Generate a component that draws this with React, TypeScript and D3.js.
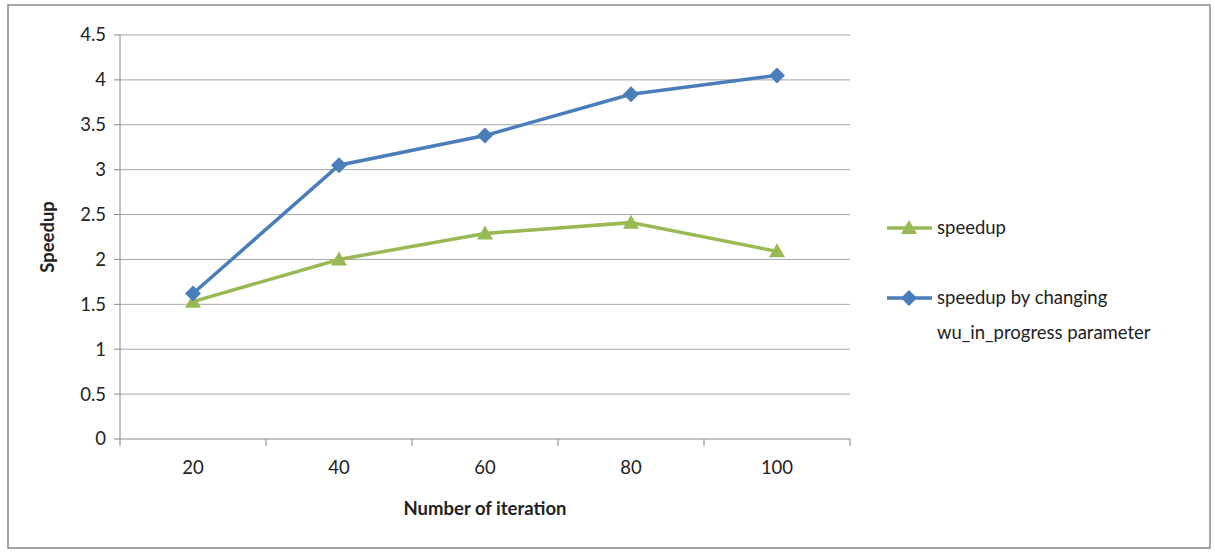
import * as d3 from "d3";

const categories = ["20", "40", "60", "80", "100"];
const speedup = [1.53, 2.0, 2.29, 2.41, 2.09];
const speedupWu = [1.62, 3.05, 3.38, 3.84, 4.05];
const yTicks = [0, 0.5, 1, 1.5, 2, 2.5, 3, 3.5, 4, 4.5];

const W = 1215;
const H = 552;
const left = 120, right = 850, top = 35, bottom = 439;
const font = "Lato, 'Liberation Sans', sans-serif";
const fs = 18.5;

export default function App() {
  const x = d3.scaleBand<string>().domain(categories).range([left, right]);
  const y = d3.scaleLinear().domain([0, 4.5]).range([bottom, top]);
  const cx = (c: string) => (x(c) ?? 0) + x.bandwidth() / 2;
  const line = d3.line<number>().x((_, i) => cx(categories[i])).y((d) => y(d));
  const blue = "#4a7ebb";
  const green = "#98b954";
  const diamond = (px: number, py: number, s = 8) =>
    `M${px},${py - s}L${px + s},${py}L${px},${py + s}L${px - s},${py}Z`;
  const tri = (px: number, py: number, s = 8) =>
    `M${px},${py - s}L${px + s},${py + s * 0.75}L${px - s},${py + s * 0.75}Z`;
  const bounds = [...categories.map((c) => x(c) ?? 0), right];

  return (
    <svg width={W} height={H} style={{ position: "fixed", left: 0, top: 0, background: "#fff" }} fontFamily={font}>
      <rect x={8} y={5} width={1202} height={543} fill="#fff" stroke="#888" strokeWidth={1.5} />
      {yTicks.map((t) => (
        <g key={t}>
          <line x1={left} x2={right} y1={y(t)} y2={y(t)} stroke={t === 0 ? "#888" : "#a6a6a6"} strokeWidth={1} />
          <line x1={left - 6} x2={left} y1={y(t)} y2={y(t)} stroke="#888" />
          <text x={left - 14} y={y(t)} dy="0.35em" textAnchor="end" fontSize={fs} fill="#222">{t}</text>
        </g>
      ))}
      <line x1={left} x2={left} y1={top} y2={bottom} stroke="#888" />
      {bounds.map((b, i) => (
        <line key={i} x1={b} x2={b} y1={bottom} y2={bottom + 7} stroke="#888" />
      ))}
      {categories.map((c) => (
        <text key={c} x={cx(c)} y={bottom + 35} textAnchor="middle" fontSize={fs} fill="#222">{c}</text>
      ))}
      <path d={line(speedup) ?? ""} fill="none" stroke={green} strokeWidth={3.5} />
      <path d={line(speedupWu) ?? ""} fill="none" stroke={blue} strokeWidth={3.5} />
      {speedup.map((v, i) => <path key={i} d={tri(cx(categories[i]), y(v))} fill={green} />)}
      {speedupWu.map((v, i) => <path key={i} d={diamond(cx(categories[i]), y(v))} fill={blue} />)}
      <text transform={`translate(54,${(top + bottom) / 2}) rotate(-90)`} textAnchor="middle" fontSize={fs} fontWeight="bold" fill="#222">Speedup</text>
      <text x={(left + right) / 2} y={515} textAnchor="middle" fontSize={fs} fontWeight="bold" fill="#222">Number of iteration</text>
      <line x1={887} x2={932} y1={228} y2={228} stroke={green} strokeWidth={3.5} />
      <path d={tri(909, 228)} fill={green} />
      <text x={937} y={228} dy="0.35em" fontSize={fs} fill="#222">speedup</text>
      <line x1={887} x2={932} y1={298} y2={298} stroke={blue} strokeWidth={3.5} />
      <path d={diamond(909, 298)} fill={blue} />
      <text x={937} y={298} dy="0.35em" fontSize={fs} fill="#222">speedup by changing</text>
      <text x={937} y={333} dy="0.35em" fontSize={fs} fill="#222">wu_in_progress parameter</text>
    </svg>
  );
}
